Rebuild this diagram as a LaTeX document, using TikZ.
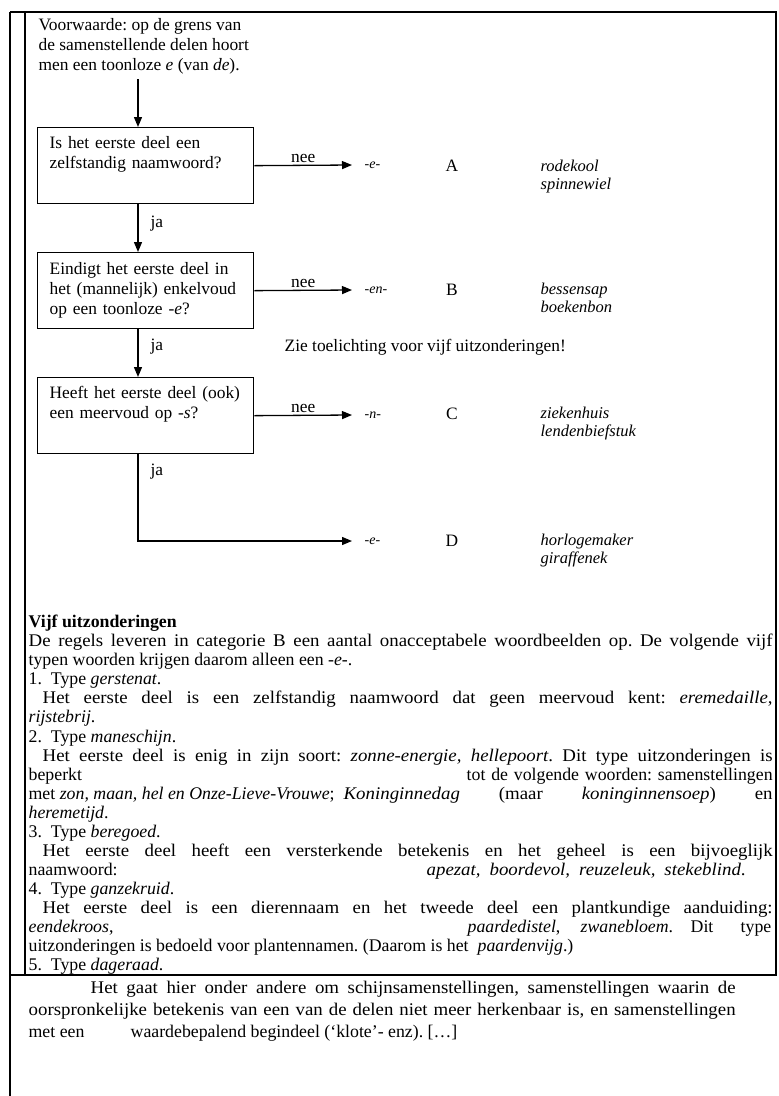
\documentclass[tikz,border=0pt]{standalone}
\usepackage{fontspec}
\setmainfont{Liberation Serif}
\newfontfamily\breed[FakeStretch=1.06]{Liberation Serif}
\usetikzlibrary{positioning,calc,arrows.meta}

\begin{document}
\frenchspacing
\begin{tikzpicture}[x=1pt, y=-1pt, line width=1.3pt,
    font=\fontsize{17.4}{20}\selectfont,
    vraag/.style={draw, anchor=north west, minimum width=216pt, minimum height=76pt,
        text width=192pt, inner xsep=12pt, align=left},
    pijl/.style={-{Triangle[length=10pt,width=8pt]}},
    uitkomst/.style={anchor=west, inner sep=0pt, inner xsep=12pt,
        font=\fontsize{14}{16}\selectfont\itshape},
    regel/.style={anchor=base west, inner sep=0pt, font=\fontsize{17.8}{19}\selectfont},
    breedregel/.style={regel, font=\fontsize{17.8}{19}\breed},
    vb/.style={regel, font=\fontsize{16.5}{18}\selectfont\itshape}]
    \useasboundingbox (0,0) rectangle (779,1096);

    % Kader
    \draw (10,12) -- (776,12) -- (776,975) -- (10,975);
    \draw (25,12) -- (25,975);
    \draw (10,12) -- (10,1096);

    % Voorwaarde
    \node (voorw) [anchor=north west, align=left, inner sep=0pt] at (38,18)
        {Voorwaarde: op de grens van\\ de samenstellende delen hoort\\ men een toonloze \textit{e} (van \textit{de}).};
    \coordinate (begin) at (138,79);

    % Vragen
    \node (q1) [vraag] at (37,127) {Is het eerste deel een\\ zelfstandig naamwoord?\\ \strut};
    \node (q2) [vraag] at (37,252) {Eindigt het eerste deel in\\ het (mannelijk) enkelvoud\\ op een toonloze -\textit{e}?};
    \node (q3) [vraag] at (37,377) {Heeft het eerste deel (ook)\\ een meervoud op -\textit{s}?\\ \strut};

    % Uitkomsten
    \node (ra) [uitkomst] at (352,165) {-e-};
    \node (rb) [uitkomst] at (352,290) {-en-};
    \node (rc) [uitkomst] at (352,415) {-n-};
    \node (rd) [uitkomst] at (352,541) {-e-};

    % Categorie en voorbeelden
    \node (ca) at (452,166) {A};
    \node (cb) at (452,290) {B};
    \node (cc) at (452,414) {C};
    \node (cd) at (452,541) {D};
    \node (va1) [vb] at (540,171) {rodekool};
    \node (va2) [vb] at (540,189) {spinnewiel};
    \node (vb1) [vb] at (540,294) {bessensap};
    \node (vb2) [vb] at (540,312) {boekenbon};
    \node (vc1) [vb] at (540,418) {ziekenhuis};
    \node (vc2) [vb] at (540,436) {lendenbiefstuk};
    \node (vd1) [vb] at (540,545) {horlogemaker};
    \node (vd2) [vb] at (540,563) {giraffenek};

    % Pijlen
    \draw[pijl] (begin) -- (begin |- q1.north);
    \draw[pijl] (q1.east) -- node (nee1) [above, inner sep=2pt] {nee} (ra.west);
    \draw[pijl] (begin |- q1.south) -- node (ja1) [pos=0.4, right, inner xsep=12pt] {ja} (begin |- q2.north);
    \draw[pijl] (q2.east) -- node (nee2) [above, inner sep=2pt] {nee} (rb.west);
    \draw[pijl] (begin |- q2.south) -- node (ja2) [pos=0.37, right, inner xsep=12pt] {ja} (begin |- q3.north);
    \draw[pijl] (q3.east) -- node (nee3) [above, inner sep=2pt] {nee} (rc.west);
    \draw[pijl] (begin |- q3.south) |- node (ja3) [pos=0.1, right, inner xsep=12pt] {ja} (rd.west);

    \node (zie) at (284,351) [anchor=base west, inner sep=0pt] {Zie toelichting voor vijf uitzonderingen!};

    % Vijf uitzonderingen
    \node (t0) [regel] at (28,627) {\textbf{Vijf uitzonderingen}};
    \node (t1) [breedregel] at (28,646) {\makebox[744pt][s]{De regels leveren in categorie B een aantal onacceptabele woordbeelden op. De volgende vijf}};
    \node (t2) [regel] at (28,665) {typen woorden krijgen daarom alleen een -\textit{e}-.};
    \node (t3) [regel] at (28,684) {1.\ \ Type \textit{gerstenat}.};
    \node (t4) [breedregel] at (42,703) {\makebox[730pt][s]{Het eerste deel is een zelfstandig naamwoord dat geen meervoud kent: \textit{eremedaille},}};
    \node (t5) [regel] at (28,722) {\textit{rijstebrij}.};
    \node (t6) [regel] at (28,742) {2.\ \ Type \textit{maneschijn}.};
    \node (t7) [breedregel] at (42,761) {\makebox[730pt][s]{Het eerste deel is enig in zijn soort: \textit{zonne-energie, hellepoort}. Dit type uitzonderingen is}};
    \node (t8a) [regel] at (28,780) {beperkt};
    \node (t8b) [regel] at (466,780) {\makebox[306pt][s]{tot de volgende woorden: samenstellingen}};
    \node (t9a) [regel] at (28,799) {met \textit{zon, maan, hel en Onze-Lieve-Vrouwe};};
    \node (t9b) [breedregel] at (343,799) {\makebox[429pt][s]{\textit{Koninginnedag} (maar \textit{koninginnensoep}) en}};
    \node (t10) [regel] at (28,818) {\textit{heremetijd}.};
    \node (t11) [regel] at (28,837) {3.\ \ Type \textit{beregoed}.};
    \node (t12) [breedregel] at (42,856) {\makebox[730pt][s]{Het eerste deel heeft een versterkende betekenis en het geheel is een bijvoeglijk}};
    \node (t13a) [regel] at (28,875) {naamwoord:};
    \node (t13b) [breedregel] at (426,875) {\makebox[319pt][s]{\textit{apezat, boordevol, reuzeleuk, stekeblind}.}};
    \node (t14) [regel] at (28,894) {4.\ \ Type \textit{ganzekruid}.};
    \node (t15) [breedregel] at (42,913) {\makebox[730pt][s]{Het eerste deel is een dierennaam en het tweede deel een plantkundige aanduiding:}};
    \node (t16a) [regel] at (28,932) {\textit{eendekroos},};
    \node (t16b) [regel] at (467,932) {\textit{paardedistel},};
    \node (t16c) [regel] at (580,932) {\textit{zwanebloem}.};
    \node (t16d) [regel] at (690,932) {Dit};
    \node (t16e) [regel, anchor=base east] at (772,932) {type};
    \node (t17a) [regel] at (28,951) {uitzonderingen is bedoeld voor plantennamen. (Daarom is het};
    \node (t17b) [regel] at (477,951) {\textit{paardenvijg}.)};
    \node (t18) [regel] at (28,970) {5.\ \ Type \textit{dageraad}.};

    % Onder het kader
    \node (o1) [breedregel] at (90,993) {\makebox[645pt][s]{Het gaat hier onder andere om schijnsamenstellingen, samenstellingen waarin de}};
    \node (o2) [breedregel] at (28,1015) {\makebox[707pt][s]{oorspronkelijke betekenis van een van de delen niet meer herkenbaar is, en samenstellingen}};
    \node (o3a) [regel] at (28,1037) {met een};
    \node (o3b) [regel] at (130,1037) {waardebepalend begindeel (\textquoteleft klote\textquoteright- enz). [\dots]};
\end{tikzpicture}
\end{document}
